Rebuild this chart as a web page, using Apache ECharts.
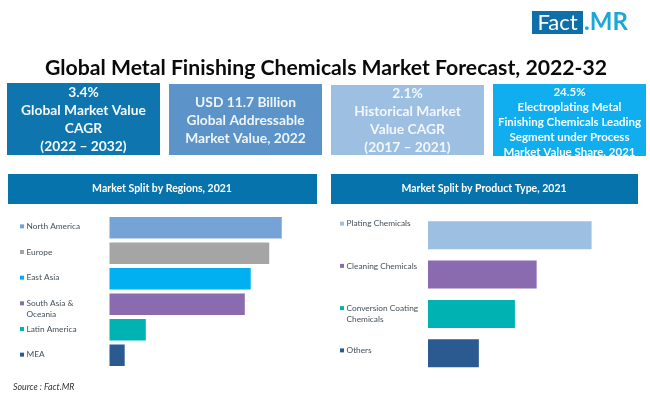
<!DOCTYPE html>
<html><head><meta charset="utf-8">
<style>html,body{margin:0;padding:0;background:#fff}#c{width:650px;height:408px}</style>
<script src="https://cdn.jsdelivr.net/npm/echarts@6/dist/echarts.min.js"></script>
</head><body><div id="c"></div>
<script>
const mainTitle = "Global Metal Finishing Chemicals Market Forecast, 2022-32";
const sourceText = "Source : Fact.MR";
const kpiTexts = [
  "3.4%\nGlobal Market Value\nCAGR\n(2022 – 2032)",
  "USD 11.7 Billion\nGlobal Addressable\nMarket Value, 2022",
  "2.1%\nHistorical Market\nValue CAGR\n(2017 – 2021)",
  "24.5%\nElectroplating Metal\nFinishing Chemicals Leading\nSegment under Process\nMarket Value Share, 2021"
];
const regionTitle = "Market Split by Regions, 2021";
const productTitle = "Market Split by Product Type, 2021";
const regions = ["North America","Europe","East Asia","South Asia &\nOceania","Latin America","MEA"];
const regionValues = [26.1,24.2,21.4,20.5,5.5,2.3];
const regionColors = ["#75a3d6","#a5a5a5","#00b0f0","#8a6bb0","#00b3b3","#2a5a90"];
const products = ["Plating Chemicals","Cleaning Chemicals","Conversion Coating\nChemicals","Others"];
const productValues = [39.9,26.5,21.2,12.4];
const productColors = ["#9dbfe2","#8a6bb0","#00b3b3","#2a5a90"];

const FONT = 'Lato, sans-serif';
const chart = echarts.init(document.getElementById('c'), null, {renderer:'canvas'});

function labelCfg(colors){
  const rich = {
    t:{fontFamily:FONT,fontSize:8.3,color:'#44505a',lineHeight:11},
    g:{width:2.5,height:4},
    p:{width:6.5,height:4}
  };
  colors.forEach((c,i)=>{rich['m'+i]={width:4,height:4,backgroundColor:c};});
  return {
    show:true, align:'left', verticalAlign:'top', margin:0, rich,
    formatter:function(v,i){
      const ls=String(v).split('\n');
      return ls.map((l,k)=>(k===0?'{m'+i+'|}{g|}':'{p|}')+'{t|'+l+'}').join('\n');
    }
  };
}
function valueAxis(g,max){return {gridIndex:g,type:'value',min:0,max,show:false};}
function barSeries(x,y,vals,cols,bw){
  return {type:'bar',xAxisIndex:x,yAxisIndex:y,barWidth:bw,silent:true,animation:false,
    data:vals.map((v,i)=>({value:v,itemStyle:{color:cols[i]}}))};
}
function box(x,y,w,h,color){return {type:'rect',shape:{x,y,width:w,height:h},style:{fill:color},silent:true};}
function txt(x,y,text,o){return {type:'text',x,y,silent:true,style:Object.assign({text,fontFamily:FONT,fill:'#fff',align:'center',verticalAlign:'middle'},o||{})};}

const kpis = [
 {x:7,y:83,w:153,h:72,cy:120,c:'#0f75ae',fs:13.8,lh:18,tc:'#f4fafd'},
 {x:169,y:84,w:153,h:71,cy:121,c:'#5c93c9',fs:13.8,lh:18,tc:'#eef5fb'},
 {x:331,y:85,w:153,h:70,cy:121,c:'#9dbfe2',fs:13.8,lh:18,tc:'#f2f7fb'},
 {x:493,y:84,w:153,h:72,cy:122,c:'#10aeee',fs:11.5,lh:15,tc:'#f4fcff'}
];
const graphics = [];
kpis.forEach((k,i)=>{
  graphics.push(box(k.x,k.y,k.w,k.h,k.c));
  graphics.push(txt(k.x+k.w/2,k.cy,kpiTexts[i],{fontSize:k.fs,lineHeight:k.lh,fontWeight:'bold',fill:k.tc}));
});
graphics.push(
  txt(326,68,mainTitle,{fontSize:21.2,fontWeight:'bold',fill:'#0a0a0a'}),
  box(8,174,309,30,'#0673ad'),
  txt(162,189,regionTitle,{fontSize:10.5,fontWeight:'bold'}),
  box(331,174,307,30,'#0673ad'),
  txt(484,189,productTitle,{fontSize:10.5,fontWeight:'bold'}),
  txt(13,387,sourceText,{fontSize:8.8,fontStyle:'italic',align:'left',fill:'#333'}),
  box(532,11,51,23,'#0f6fa8'),
  txt(557.5,22.5,'Fact',{fontSize:22,fill:'#fff'}),
  txt(584,22.5,'.MR',{fontSize:24,fontWeight:'bold',align:'left',fill:'#1ba7d8'})
);

chart.setOption({
  animation:false,
  backgroundColor:'#fff',
  grid:[
    {left:109.5,top:215,width:198,height:153},
    {left:428,top:215.5,width:184.5,height:157.5},
    {left:20,top:208,width:80,height:154},
    {left:340,top:197,width:85,height:169}
  ],
  xAxis:[valueAxis(0,30),valueAxis(1,45),valueAxis(2,1),valueAxis(3,1)],
  yAxis:[
    {gridIndex:0,type:'category',inverse:true,data:regions,axisLine:{show:false},axisTick:{show:false},axisLabel:{show:false}},
    {gridIndex:1,type:'category',inverse:true,data:products,axisLine:{show:false},axisTick:{show:false},axisLabel:{show:false}},
    {gridIndex:2,type:'category',inverse:true,position:'left',data:regions,axisLine:{show:false},axisTick:{show:false},axisLabel:labelCfg(regionColors)},
    {gridIndex:3,type:'category',inverse:true,position:'left',data:products,axisLine:{show:false},axisTick:{show:false},axisLabel:labelCfg(productColors)}
  ],
  series:[
    barSeries(0,0,regionValues,regionColors,21.5),
    barSeries(1,1,productValues,productColors,28)
  ],
  graphic:graphics
});
</script></body></html>
